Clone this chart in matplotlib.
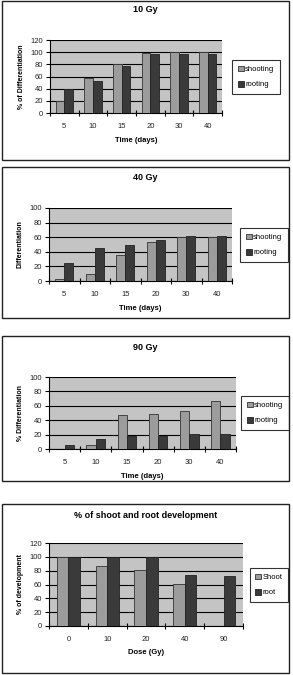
import matplotlib.pyplot as plt
import numpy as np
from matplotlib.patches import Rectangle

plt.rcParams['font.family'] = ['Liberation Sans', 'DejaVu Sans']

# data
days = ['5', '10', '15', '20', '30', '40']
doses = ['0', '10', '20', '40', '90']

shoot_10 = [20, 58, 80, 98, 100, 100]
root_10 = [40, 52, 78, 97, 97, 97]
shoot_40 = [3, 9, 36, 53, 60, 60]
root_40 = [24, 45, 50, 56, 62, 62]
shoot_90 = [0, 5, 47, 49, 53, 67]
root_90 = [5, 14, 18, 18, 21, 21]
shoot_dev = [100, 87, 81, 61, 0]
root_dev = [100, 100, 100, 74, 73]

W, H = 293, 675
fig = plt.figure(figsize=(W / 100, H / 100), dpi=100)

LIGHT = '#9c9c9c'
DARK = '#3a3a3a'
BG = '#c4c4c4'
TXT = '#222222'

# box, plot area, legend centre, title y, xlabel y (all in pixels)
panels = [
    dict(title='10 Gy', cats=days, s=shoot_10, r=root_10, names=('shooting', 'rooting'),
         ylabel='% of Differentiation', xlabel='Time (days)', ymax=120,
         box=(2, 1, 289, 160), plot=(50, 222, 40, 113), leg=(256, 77), ty=10, xy=140),
    dict(title='40 Gy', cats=days, s=shoot_40, r=root_40, names=('shooting', 'rooting'),
         ylabel='Differentiation', xlabel='Time (days)', ymax=100,
         box=(2, 167, 289, 318), plot=(49, 232, 208, 281), leg=(264, 245), ty=177, xy=308),
    dict(title='90 Gy', cats=days, s=shoot_90, r=root_90, names=('shooting', 'rooting'),
         ylabel='% Differentiation', xlabel='Time (days)', ymax=100,
         box=(2, 336, 289, 481), plot=(49, 236, 377, 449), leg=(265, 413), ty=347, xy=477),
    dict(title='% of shoot and root development', cats=doses, s=shoot_dev, r=root_dev,
         names=('Shoot', 'root'), ylabel='% of development', xlabel='Dose (Gy)', ymax=120,
         box=(2, 504, 289, 673), plot=(49, 243, 543, 626), leg=(269, 585), ty=515, xy=653),
]

for p in panels:
    bx0, by0, bx1, by1 = p['box']
    fig.patches.append(Rectangle((bx0 / W, 1 - by1 / H), (bx1 - bx0) / W, (by1 - by0) / H,
                                 transform=fig.transFigure, fill=False,
                                 edgecolor='#222222', linewidth=1.0))
    px0, px1, py0, py1 = p['plot']
    ax = fig.add_axes([px0 / W, 1 - py1 / H, (px1 - px0) / W, (py1 - py0) / H])
    ax.set_facecolor(BG)
    n = len(p['cats'])
    x = np.arange(n)
    w = 0.3
    ax.bar(x - w / 2, p['s'], w, color=LIGHT, edgecolor='#333333', linewidth=0.6,
           label=p['names'][0], zorder=3)
    ax.bar(x + w / 2, p['r'], w, color=DARK, edgecolor='#222222', linewidth=0.6,
           label=p['names'][1], zorder=3)
    ax.set_xlim(-0.5, n - 0.5)
    ax.set_ylim(0, p['ymax'])
    ax.set_yticks(np.arange(0, p['ymax'] + 1, 20))
    ax.yaxis.grid(True, color='black', linewidth=0.8, zorder=1)
    ax.set_xticks(np.arange(-0.5, n, 1.0))
    ax.set_xticklabels([])
    ax.set_xticks(x, minor=True)
    ax.set_xticklabels(p['cats'], minor=True)
    ax.tick_params(axis='x', which='major', direction='inout', length=5, width=0.8)
    ax.tick_params(axis='x', which='minor', length=0, pad=7, labelsize=5.5, labelcolor=TXT)
    ax.tick_params(axis='y', direction='out', length=3, width=0.8, labelsize=5.5, pad=2,
                   labelcolor=TXT)
    for s in ['top', 'right']:
        ax.spines[s].set_visible(False)
    for s in ['left', 'bottom']:
        ax.spines[s].set_linewidth(0.8)
    ax.set_ylabel(p['ylabel'], fontsize=5, fontweight='bold', labelpad=4)
    fig.text((px0 + px1) / 2 / W, 1 - p['xy'] / H, p['xlabel'], ha='center', va='center',
             fontsize=5.5, fontweight='bold')
    fig.text((bx0 + bx1) / 2 / W, 1 - p['ty'] / H, p['title'], ha='center', va='center',
             fontsize=6.5, fontweight='bold')
    lx, ly = p['leg']
    leg = ax.legend(loc='center', bbox_to_anchor=(lx / W, 1 - ly / H),
                    bbox_transform=fig.transFigure, fontsize=5.5, frameon=True,
                    fancybox=False, edgecolor='black', handlelength=0.8, handleheight=0.8,
                    handletextpad=0.2, labelspacing=1.0, borderpad=0.7)
    leg.get_frame().set_linewidth(0.8)

fig.savefig('out.png', dpi=100)
